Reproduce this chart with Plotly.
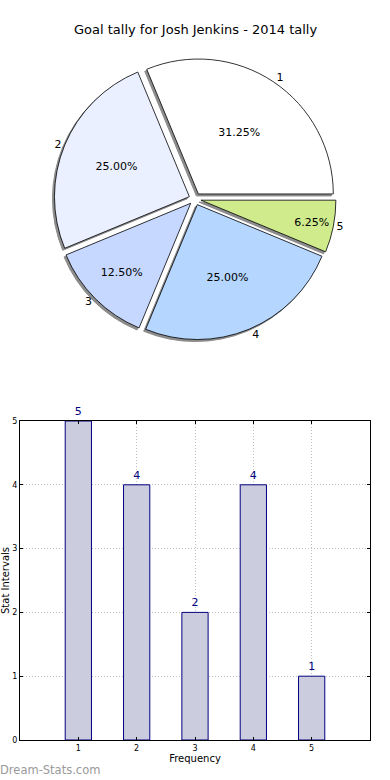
import plotly.graph_objects as go

# Data
categories = ["1", "2", "3", "4", "5"]
goals = [5, 4, 2, 4, 1]
pie_colors = ["#ffffff", "#eaf0ff", "#c6d8ff", "#b4d6ff", "#cfeb8c"]
title_text = "Goal tally for Josh Jenkins - 2014 tally"
y_ticks = [0, 1, 2, 3, 4, 5]
x_ticks = [1, 2, 3, 4, 5]

W, H = 390, 780
FONT = "DejaVu Sans"

def px_x(p):
    return p / W

def px_y(p):
    return 1 - p / H

cx, cy, half = 195, 199, 141
dom_x = [px_x(cx - half), px_x(cx + half)]
dom_y = [px_y(cy + half), px_y(cy - half)]
shx, shy = -2, 2  # shadow offset in px (left and down)
dom_x_sh = [px_x(cx - half + shx), px_x(cx + half + shx)]
dom_y_sh = [px_y(cy + half + shy), px_y(cy - half + shy)]

pull = [0.045] * len(goals)
# plotly counterclockwise: first slice ends at 'rotation'; make slice 1 start at 3 o'clock
rot = 90 - 360 * goals[0] / sum(goals)

fig = go.Figure()

common_pie = dict(values=goals, labels=categories, sort=False,
                  direction="counterclockwise", rotation=rot, pull=pull,
                  showlegend=False)

# shadow
fig.add_trace(go.Pie(
    **common_pie, domain=dict(x=dom_x_sh, y=dom_y_sh),
    marker=dict(colors=["#8c8c8c"] * 5, line=dict(color="#8c8c8c", width=1)),
    textinfo="none", hoverinfo="skip",
))
# main pie with percentages
fig.add_trace(go.Pie(
    **common_pie, domain=dict(x=dom_x, y=dom_y),
    marker=dict(colors=pie_colors, line=dict(color="#000000", width=0.8)),
    texttemplate="%{percent:.2%}", textposition="inside", insidetextorientation="horizontal",
    textfont=dict(family=FONT, size=11, color="#000000"),
))
# outside labels
fig.add_trace(go.Pie(
    **common_pie, domain=dict(x=dom_x, y=dom_y),
    marker=dict(colors=["rgba(0,0,0,0)"] * 5, line=dict(width=0)),
    textinfo="label", textposition="outside",
    outsidetextfont=dict(family=FONT, size=11, color="#000000"),
    hoverinfo="skip",
))

# bar chart
fig.add_trace(go.Bar(
    x=x_ticks, y=goals, width=0.45,
    marker=dict(color="#ccccdf", line=dict(color="#000080", width=1)),
    text=[str(v) for v in goals], textposition="outside", cliponaxis=False,
    textfont=dict(family=FONT, size=11, color="#000080"),
    xaxis="x", yaxis="y", showlegend=False,
))

axis_common = dict(
    showline=True, linecolor="#000000", linewidth=1, mirror="ticks",
    ticks="inside", ticklen=3, tickcolor="#000000",
    showgrid=True, gridcolor="#c0c0c0", griddash="1px,2px", gridwidth=1,
    zeroline=False, automargin=False,
    tickfont=dict(family=FONT, size=8, color="#000000"),
)

fig.update_layout(
    width=W, height=H, margin=dict(l=0, r=0, t=0, b=0),
    paper_bgcolor="#ffffff", plot_bgcolor="#ffffff",
    font=dict(family=FONT, color="#000000"),
    xaxis=dict(domain=[px_x(20), px_x(370)], range=[0, 6], tickvals=x_ticks,
               title=dict(text="Frequency", font=dict(family=FONT, size=10), standoff=2),
               anchor="y", **axis_common),
    yaxis=dict(domain=[px_y(740), px_y(421)], range=[0, 5], tickvals=y_ticks,
               title=dict(text="Stat Intervals", font=dict(family=FONT, size=10), standoff=2),
               anchor="x", **axis_common),
    annotations=[
        dict(text=title_text, x=0.5, y=px_y(30), xref="paper", yref="paper",
             showarrow=False, font=dict(family=FONT, size=13, color="#000000"),
             xanchor="center", yanchor="middle"),
        dict(text="Dream-Stats.com", x=0, y=px_y(770), xref="paper", yref="paper",
             showarrow=False, font=dict(family=FONT, size=11.5, color="#9a9a9a"),
             xanchor="left", yanchor="middle", xshift=-2),
    ],
)

fig.write_html("out.html", config={"displayModeBar": False, "responsive": False},
               post_script="document.body.style.margin='0';document.body.style.overflow='hidden';")
